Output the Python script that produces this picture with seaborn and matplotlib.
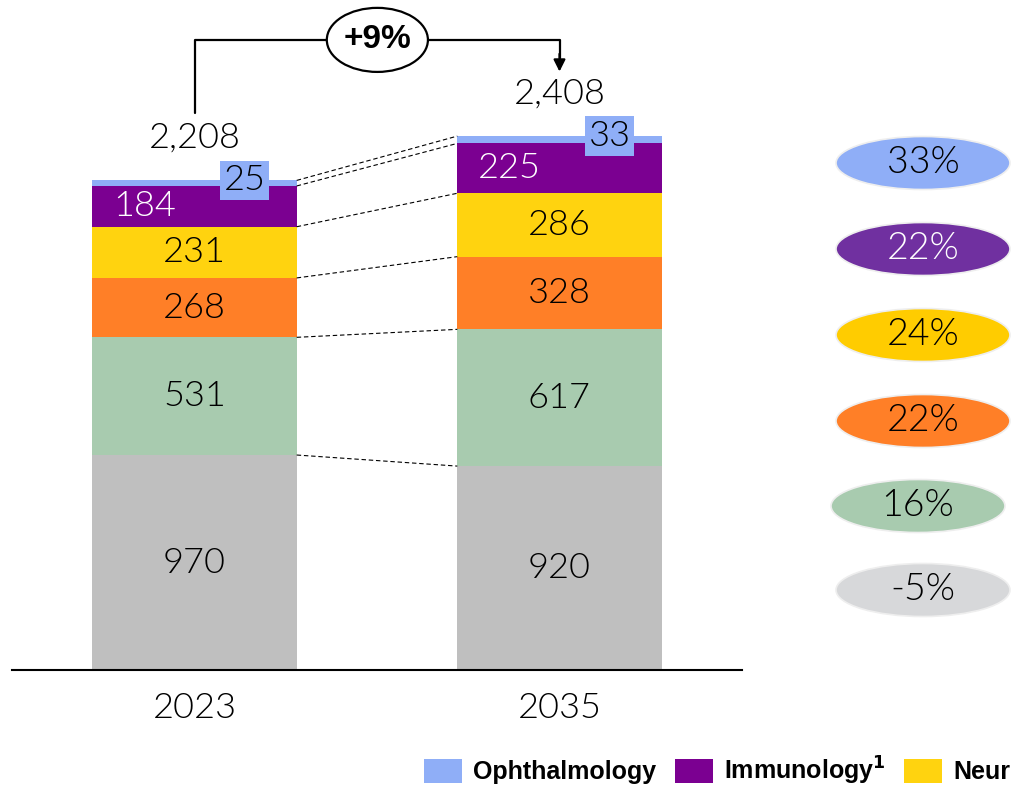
import pandas as pd
import matplotlib.pyplot as plt
from matplotlib.patches import Ellipse, Patch
import seaborn as sns

# data (bottom to top) #
years = ["2023", "2035"]
layers = ["Other", "Green", "Orange", "Neurology", "Immunology", "Ophthalmology"]
vals_2023 = [970, 531, 268, 231, 184, 25]
vals_2035 = [920, 617, 328, 286, 225, 33]
totals = ["2,208", "2,408"]
growth = ["33%", "22%", "24%", "22%", "16%", "-5%"]  # top to bottom
cagr_total = "+9%"
legend_labels = ["Ophthalmology", r"Immunology$^{\mathbf{1}}$", "Neurology"]

# colors #
bar_colors = ["#BFBFBF", "#A8CBAF", "#FF7F27", "#FFD30F", "#7B0091", "#8FAEF7"]
ell_colors = ["#8FAEF7", "#7030A0", "#FFCC00", "#FF7F27", "#A8CBAF", "#D7D8DA"]
ell_text = ["black", "white", "black", "black", "black", "black"]

sns.set_style("white")
plt.rcParams["font.family"] = ["Lato", "DejaVu Sans"]
plt.rcParams["text.color"] = "black"
plt.rcParams["xtick.color"] = "black"
plt.rcParams["axes.labelcolor"] = "black"

LIGHT = 300
fs = 26

df = pd.DataFrame({"2023": vals_2023, "2035": vals_2035}, index=layers)
cum = df.cumsum()

fig = plt.figure(figsize=(10.12, 7.87), dpi=100)
ax = fig.add_axes([12 / 1012, 117 / 787, 730 / 1012, 670 / 787])

bw = 0.56
# stacked bars: draw cumulative heights from top down #
for i in reversed(range(len(layers))):
    sns.barplot(x=years, y=cum.iloc[i].values, color=bar_colors[i], saturation=1,
                width=bw, edgecolor="none", linewidth=0, ax=ax)

ax.set_xlim(-0.5, 1.5)
ax.set_ylim(0, 3023)

# dashed connectors #
for i in range(len(layers)):
    ax.plot([bw / 2, 1 - bw / 2], [cum.iloc[i, 0], cum.iloc[i, 1]], color="black",
            lw=0.8, ls=(0, (4, 2.5)))

# segment labels #
for j, yr in enumerate(years):
    base = 0
    for i, lay in enumerate(layers):
        v = df.loc[lay, yr]
        mid = base + v / 2
        if lay == "Immunology":
            ax.text(j - 0.137, mid, str(v), ha="center", va="center", fontsize=fs,
                    color="white", fontweight=LIGHT)
        elif lay == "Ophthalmology":
            ax.text(j + 0.138, base + v, str(v), ha="center", va="center", fontsize=fs,
                    color="black", fontweight=LIGHT,
                    bbox=dict(boxstyle="square,pad=0.1", fc=bar_colors[i], ec="none"))
        else:
            ax.text(j, mid, str(v), ha="center", va="center", fontsize=fs,
                    color="black", fontweight=LIGHT)
        base += v
    ax.text(j, cum.iloc[-1, j] + 192, totals[j], ha="center", va="center",
            fontsize=fs, fontweight=LIGHT)

# CAGR bracket #
yb = 2843
ax.plot([0, 0, 0.362], [2513, yb, yb], color="black", lw=1.6, clip_on=False)
ax.plot([0.64, 1, 1], [yb, yb, 2760], color="black", lw=1.6, clip_on=False)
ax.annotate("", xy=(1, 2700), xytext=(1, 2780),
            arrowprops=dict(arrowstyle="-|>,head_length=0.7,head_width=0.35",
                            color="black", lw=1.6, shrinkA=0, shrinkB=0))
ax.add_patch(Ellipse((0.501, yb), 0.277, 289, fc="white", ec="black", lw=1.6,
                     clip_on=False, zorder=5))
ax.text(0.501, yb, cagr_total, ha="center", va="center", fontsize=24,
        fontweight="bold", zorder=6, family=["Liberation Sans", "DejaVu Sans"])

# axis styling #
sns.despine(ax=ax, left=True)
ax.spines["bottom"].set_color("black")
ax.spines["bottom"].set_linewidth(1.5)
ax.set_yticks([])
ax.tick_params(axis="x", length=0, pad=16, labelsize=fs)
for t in ax.get_xticklabels():
    t.set_fontweight(LIGHT)

# growth ellipses #
ell_y = [163, 249, 335, 421, 506, 590]
ell_x = [923, 923, 923, 923, 918, 923]
for k, g in enumerate(growth):
    cx, cy = ell_x[k] / 1012, 1 - ell_y[k] / 787
    fig.patches.append(Ellipse((cx, cy), 174 / 1012, 53 / 787, fc=ell_colors[k],
                               ec="#EEEEEE", lw=1.2, transform=fig.transFigure,
                               figure=fig))
    fig.text(cx, cy, g, ha="center", va="center", fontsize=fs + 1,
             color=ell_text[k], fontweight=LIGHT)

# legend (runs off the right edge, as in the source) #
handles = [Patch(fc=bar_colors[5], ec="none"), Patch(fc=bar_colors[4], ec="none"),
           Patch(fc=bar_colors[3], ec="none")]
fig.legend(handles, legend_labels, loc="center left", bbox_to_anchor=(424 / 1012, 16.5 / 787),
           ncol=3, frameon=False, borderpad=0, borderaxespad=0, handlelength=1.52,
           handleheight=1.08, handletextpad=0.44, columnspacing=0.75,
           prop={"family": ["Liberation Sans", "DejaVu Sans"], "weight": "bold", "size": 18})

plt.savefig("out.png", dpi=100)
